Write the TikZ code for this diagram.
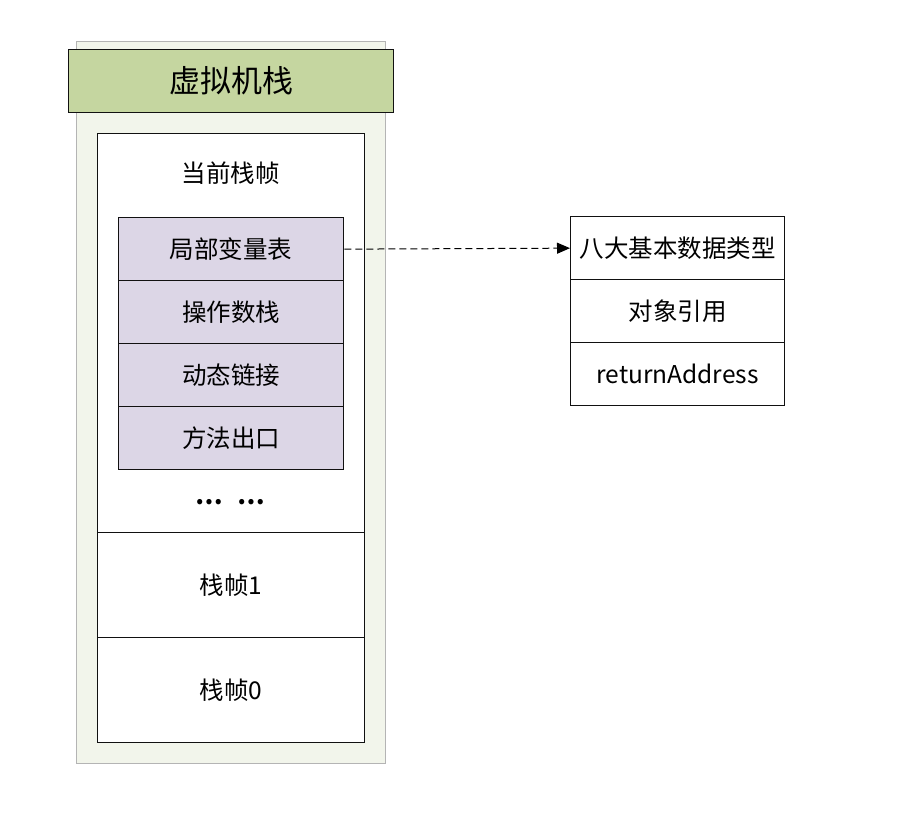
\documentclass[tikz,border=0pt]{standalone}
\usepackage{fontspec}
\setmainfont{Noto Sans CJK SC}
\usetikzlibrary{arrows.meta}
\definecolor{outerfill}{HTML}{F2F5EB}
\definecolor{outerline}{HTML}{B4B4B4}
\definecolor{headfill}{HTML}{C5D6A0}
\definecolor{purfill}{HTML}{DCD6E6}
\definecolor{linec}{HTML}{111111}
\tikzset{
  cell/.style={draw=linec, line width=1.3pt, inner sep=0pt, anchor=north west, align=center,
    font=\fontsize{24.5}{28}\selectfont},
  purcell/.style={cell, fill=purfill},
  label/.style={inner sep=0pt, font=\fontsize{24.5}{28}\selectfont}
}
\begin{document}
\begin{tikzpicture}[x=1pt,y=-1pt]
\useasboundingbox (0,0) rectangle (923,816);
% outer container
\node[draw=outerline, fill=outerfill, line width=1.3pt, inner sep=0pt, anchor=north west,
  minimum width=309pt, minimum height=722pt] (outer) at (76,41) {};
% header
\node[draw=linec, fill=headfill, line width=1.4pt, inner sep=0pt, anchor=north west,
  minimum width=325pt, minimum height=63pt, font=\fontsize{31}{36}\selectfont] (head) at (68,49) {虚拟机栈};
% inner frame
\node[cell, fill=white, minimum width=267pt, minimum height=399pt] (cur) at (97,133) {};
\node[cell, fill=white, minimum width=267pt, minimum height=105pt] (f1) at (97,532) {栈帧1};
\node[cell, fill=white, minimum width=267pt, minimum height=105pt] (f0) at (97,637) {栈帧0};
\node[label] (curlbl) at (230.5,173) {当前栈帧};
\node[label, font=\bfseries\fontsize{24.5}{28}\selectfont] (dots) at (230.5,502) {…\hspace{14pt}…};
% purple rows
\node[purcell, minimum width=225pt, minimum height=63pt] (lv) at (118,217) {局部变量表};
\node[purcell, minimum width=225pt, minimum height=63pt] (os) at (118,280) {操作数栈};
\node[purcell, minimum width=225pt, minimum height=63pt] (dl) at (118,343) {动态链接};
\node[purcell, minimum width=225pt, minimum height=63pt] (ra) at (118,406) {方法出口};
% right table
\node[cell, minimum width=214pt, minimum height=63pt] (t1) at (570,216) {八大基本数据类型};
\node[cell, minimum width=214pt, minimum height=63pt] (t2) at (570,279) {对象引用};
\node[cell, minimum width=214pt, minimum height=63pt] (t3) at (570,342) {returnAddress};
% arrow
\draw[black, line width=1pt, dash pattern=on 7pt off 4pt, -{Triangle[length=13pt,width=11pt]}]
  (lv.east) -- (t1.west);
\end{tikzpicture}
\end{document}
